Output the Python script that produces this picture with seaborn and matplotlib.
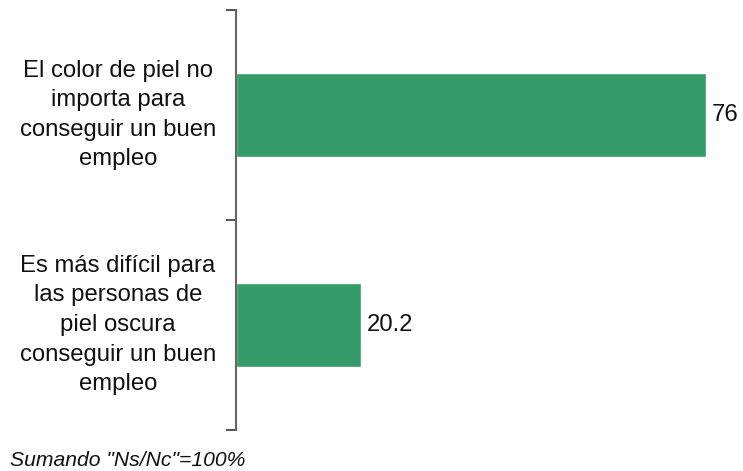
import pandas as pd
import seaborn as sns
import matplotlib.pyplot as plt
from matplotlib.transforms import blended_transform_factory

categories = [
    "El color de piel no\nimporta para\nconseguir un buen\nempleo",
    "Es más difícil para\nlas personas de\npiel oscura\nconseguir un buen\nempleo",
]
values = [76, 20.2]
value_labels = ["76", "20.2"]
note = 'Sumando "Ns/Nc"=100%'

df = pd.DataFrame({"categoria": categories, "valor": values})

sns.set_style("white")
plt.rcParams["font.family"] = ["Liberation Sans", "DejaVu Sans"]

fig = plt.figure(figsize=(7.43, 4.71), dpi=100)
ax = fig.add_axes([236 / 743, (471 - 430) / 471, 507 / 743, 420 / 471])

sns.barplot(data=df, x="valor", y="categoria", color="#359b68", width=0.4,
            saturation=1, ax=ax)

ax.set_xlim(0, 82)
ax.set_ylim(1.5, -0.5)
ax.set_xlabel("")
ax.set_ylabel("")
ax.set_xticks([])
ax.set_yticks([-0.5, 0.5, 1.5])
ax.set_yticklabels([])
ax.tick_params(axis="y", length=7, width=1.2, color="#333333", left=True)
for s in ["top", "right", "bottom"]:
    ax.spines[s].set_visible(False)
ax.spines["left"].set_color("#666666")
ax.spines["left"].set_linewidth(1.5)

label_tr = blended_transform_factory(fig.transFigure, ax.transData)
for i, (cat, v, lab) in enumerate(zip(categories, values, value_labels)):
    ax.text(v + 0.9, i, lab, va="center", ha="left", fontsize=17.2, color="#111111")
    ax.text(118 / 743, i, cat, transform=label_tr, ha="center", va="center",
            fontsize=17.2, linespacing=1.45, color="#111111",
            multialignment="center")

fig.text(10 / 743, 1 - 461 / 471, note, fontsize=15.2, style="italic",
         ha="left", va="center", color="#111111")

fig.savefig("out.png", dpi=100)
